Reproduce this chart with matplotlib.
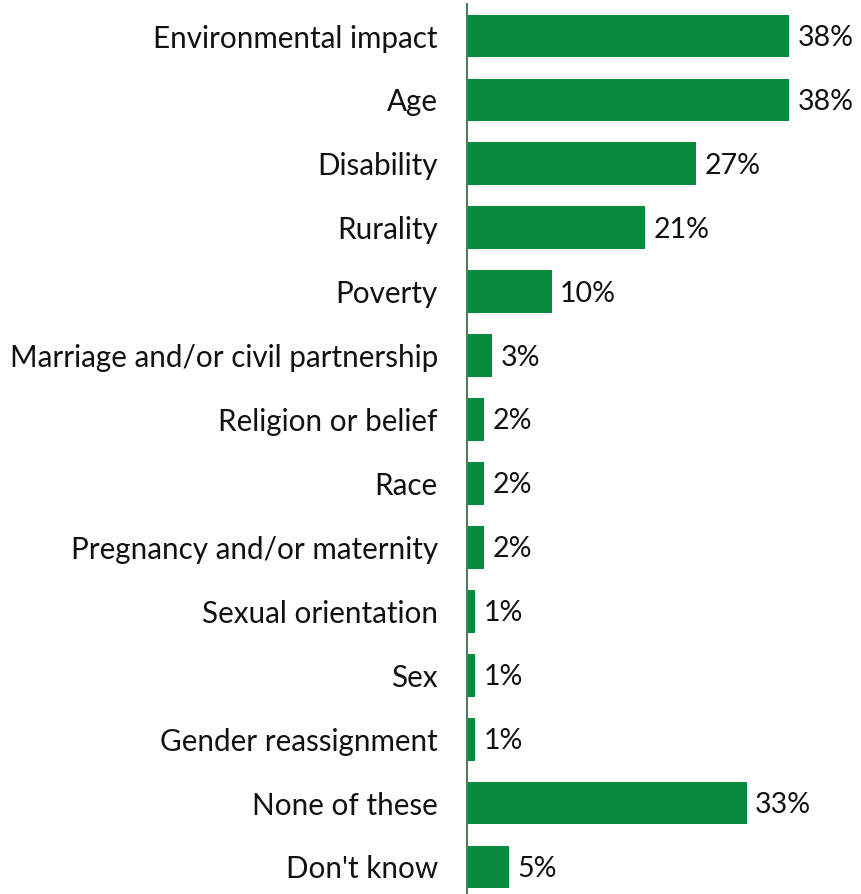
import matplotlib
matplotlib.use("Agg")
import matplotlib.pyplot as plt

categories = ["Environmental impact", "Age", "Disability", "Rurality", "Poverty",
              "Marriage and/or civil partnership", "Religion or belief", "Race",
              "Pregnancy and/or maternity", "Sexual orientation", "Sex",
              "Gender reassignment", "None of these", "Don't know"]
values = [38, 38, 27, 21, 10, 3, 2, 2, 2, 1, 1, 1, 33, 5]

plt.rcParams['font.family'] = ['Lato', 'DejaVu Sans']

W, H = 861, 894
fig = plt.figure(figsize=(W/100, H/100), dpi=100)
left = 467 / W
ax = fig.add_axes([left, 0, 1 - left, 1 - 4/H])
green = "#078A3E"
y = list(range(len(categories)))
ax.barh(y, values, height=0.67, color=green)
ax.set_yticks(y)
ax.set_yticklabels(categories, fontsize=21.3, color="#111111")
ax.tick_params(axis='y', length=0, pad=21)
ax.set_xticks([])
ax.set_xlim(0, (W - 467) / 8.47)
ax.set_ylim(13 + (894 - 867) / 63.9, -(36 - 4) / 63.9)
for s in ["top", "right", "bottom"]:
    ax.spines[s].set_visible(False)
ax.spines["left"].set_color("#4f7f5e")
ax.spines["left"].set_linewidth(1.5)
for yi, v in zip(y, values):
    ax.text(v + 1.0, yi + 0.03, f"{v}%", va="center", ha="left", fontsize=20.5, color="#111111")
fig.savefig("out.png", dpi=100)
